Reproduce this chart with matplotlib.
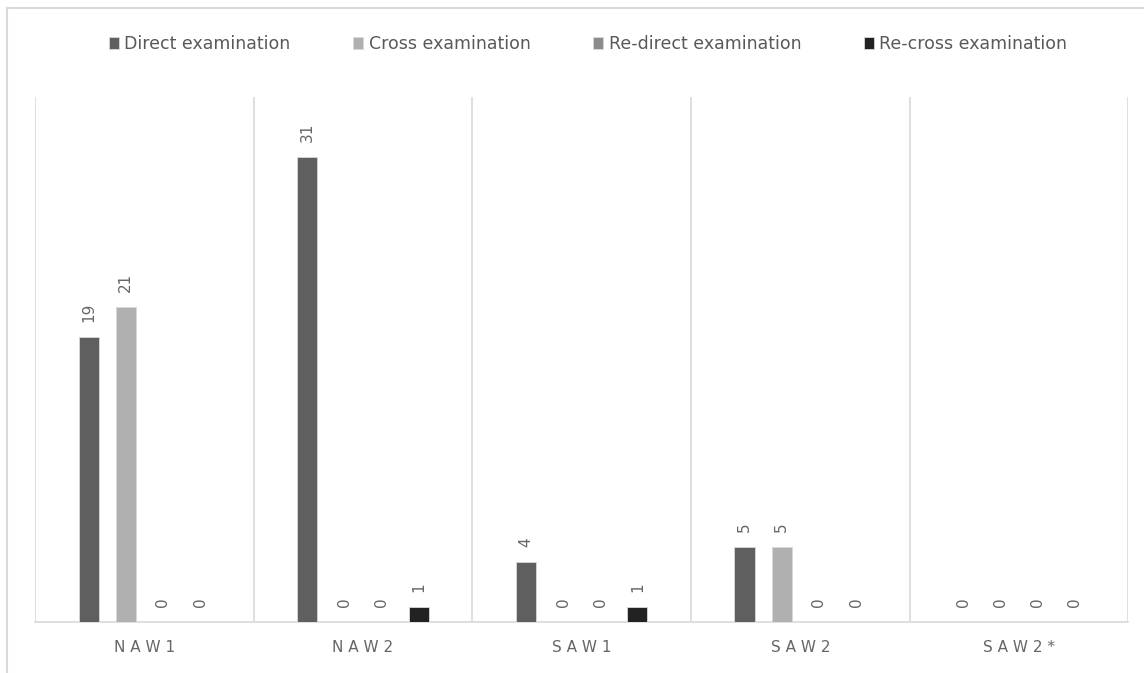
import matplotlib.pyplot as plt
import numpy as np
from matplotlib.lines import Line2D

# testimony counts per witness and examination stage
witnesses = ['N A W 1', 'N A W 2', 'S A W 1', 'S A W 2', 'S A W 2 *']
direct = [19, 31, 4, 5, 0]
cross = [21, 0, 0, 5, 0]
redirect = [0, 0, 0, 0, 0]
recross = [0, 1, 1, 0, 0]

series = [direct, cross, redirect, recross]
names = ['Direct examination', 'Cross examination', 'Re-direct examination', 'Re-cross examination']
colors = ['#5f5f5f', '#b0b0b0', '#8c8c8c', '#222222']

plt.rcParams['font.family'] = ['DejaVu Sans']

fig = plt.figure(figsize=(11.44, 6.73), dpi=100)
ax = fig.add_axes([0.0306, 0.0758, 0.9556, 0.780])

x = np.arange(len(witnesses))
step = 0.17
offsets = np.array([-1.5, -0.5, 0.5, 1.5]) * step
bar_w = 0.092

for vals, name, col, off in zip(series, names, colors, offsets):
    bars = ax.bar(x + off, vals, width=bar_w, color=col, edgecolor='#d9d9d9',
                  linewidth=0.6, label=name, zorder=3)
    for b, v in zip(bars, vals):
        ax.text(b.get_x() + b.get_width() / 2, v + 1.0, str(v), rotation=90,
                ha='center', va='bottom', fontsize=11, color='#666666')

ax.set_xlim(-0.5, len(witnesses) - 0.5)
ax.set_ylim(0, 35)
ax.set_yticks([])
ax.set_xticks(x)
ax.set_xticklabels(witnesses, fontsize=11, color='#666666')
ax.tick_params(axis='x', length=0, pad=13)

# vertical separators between witnesses
for sep in np.arange(-0.5, len(witnesses), 1.0):
    ax.axvline(sep, color='#d9d9d9', linewidth=1.2, zorder=1)

for s in ['top', 'left', 'right']:
    ax.spines[s].set_visible(False)
ax.spines['bottom'].set_color('#d9d9d9')
ax.spines['bottom'].set_linewidth(1.2)

fig.legend(handles=ax.get_legend_handles_labels()[0], labels=names,
           loc='center', bbox_to_anchor=(0.514, 0.934), ncol=4, frameon=False,
           fontsize=12.5, handlelength=0.6, handleheight=0.7, handletextpad=0.3,
           columnspacing=3.6, labelcolor='#595959')

# outer frame lines along top and left
fig.add_artist(Line2D([0.006, 1.0], [0.988, 0.988], color='#d9d9d9', lw=1.5,
                      transform=fig.transFigure))
fig.add_artist(Line2D([0.006, 0.006], [0.0, 0.988], color='#d9d9d9', lw=1.5,
                      transform=fig.transFigure))

fig.savefig('out.png', dpi=100)
